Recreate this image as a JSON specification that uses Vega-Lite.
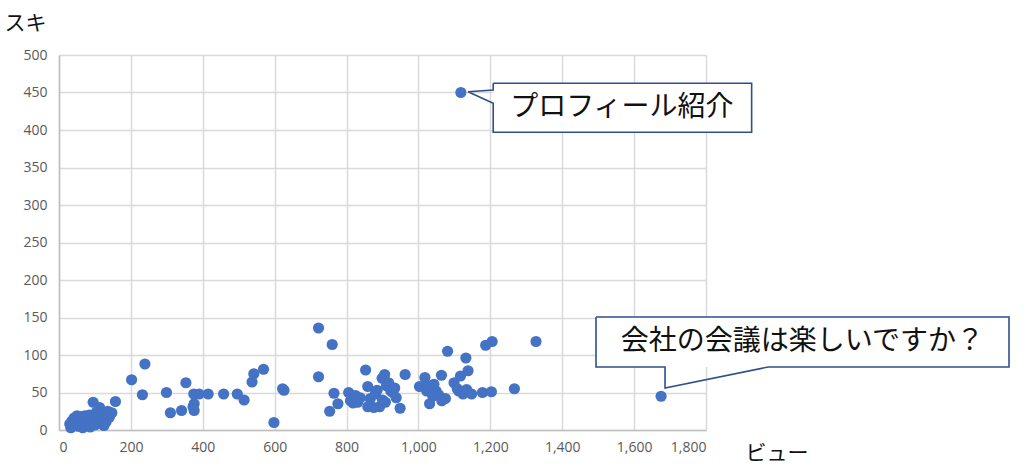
{
  "$schema": "https://vega.github.io/schema/vega-lite/v6.json",
  "width": 647,
  "height": 375,
  "autosize": "none",
  "padding": {"left": 59, "top": 55, "right": 321, "bottom": 45},
  "background": "white",
  "datasets": {
    "posts": [
      {"views": 30, "likes": 8}, {"views": 33, "likes": 3}, {"views": 36, "likes": 12}, {"views": 40, "likes": 6},
      {"views": 42, "likes": 16}, {"views": 46, "likes": 10}, {"views": 50, "likes": 19}, {"views": 53, "likes": 5},
      {"views": 56, "likes": 13}, {"views": 60, "likes": 18}, {"views": 63, "likes": 8}, {"views": 66, "likes": 3},
      {"views": 69, "likes": 12}, {"views": 72, "likes": 19}, {"views": 75, "likes": 6}, {"views": 78, "likes": 15},
      {"views": 81, "likes": 10}, {"views": 84, "likes": 20}, {"views": 87, "likes": 4}, {"views": 90, "likes": 12},
      {"views": 95, "likes": 37}, {"views": 98, "likes": 16}, {"views": 101, "likes": 7}, {"views": 104, "likes": 24},
      {"views": 107, "likes": 13}, {"views": 110, "likes": 19}, {"views": 113, "likes": 30}, {"views": 116, "likes": 9},
      {"views": 119, "likes": 23}, {"views": 122, "likes": 15}, {"views": 125, "likes": 6}, {"views": 128, "likes": 20},
      {"views": 131, "likes": 11}, {"views": 136, "likes": 25}, {"views": 140, "likes": 17}, {"views": 147, "likes": 23},
      {"views": 157, "likes": 38},
      {"views": 202, "likes": 67}, {"views": 232, "likes": 47}, {"views": 239, "likes": 88}, {"views": 299, "likes": 50},
      {"views": 310, "likes": 23}, {"views": 341, "likes": 26}, {"views": 353, "likes": 63}, {"views": 373, "likes": 31},
      {"views": 375, "likes": 48}, {"views": 376, "likes": 35}, {"views": 376, "likes": 26}, {"views": 390, "likes": 48},
      {"views": 415, "likes": 48}, {"views": 458, "likes": 48}, {"views": 496, "likes": 48}, {"views": 515, "likes": 40},
      {"views": 537, "likes": 64}, {"views": 542, "likes": 75}, {"views": 569, "likes": 81}, {"views": 598, "likes": 10},
      {"views": 622, "likes": 55}, {"views": 626, "likes": 53},
      {"views": 722, "likes": 136}, {"views": 722, "likes": 71}, {"views": 760, "likes": 114}, {"views": 753, "likes": 25},
      {"views": 765, "likes": 49}, {"views": 776, "likes": 35}, {"views": 806, "likes": 50}, {"views": 811, "likes": 39},
      {"views": 818, "likes": 36}, {"views": 825, "likes": 46}, {"views": 831, "likes": 37}, {"views": 838, "likes": 43},
      {"views": 853, "likes": 80}, {"views": 859, "likes": 58}, {"views": 859, "likes": 31}, {"views": 866, "likes": 42},
      {"views": 876, "likes": 30}, {"views": 880, "likes": 48}, {"views": 885, "likes": 53}, {"views": 892, "likes": 31},
      {"views": 899, "likes": 69}, {"views": 906, "likes": 74}, {"views": 911, "likes": 59}, {"views": 908, "likes": 37},
      {"views": 917, "likes": 63}, {"views": 923, "likes": 52}, {"views": 929, "likes": 50}, {"views": 934, "likes": 56},
      {"views": 938, "likes": 43}, {"views": 949, "likes": 29}, {"views": 963, "likes": 74}, {"views": 900, "likes": 40},
      {"views": 1003, "likes": 58}, {"views": 1018, "likes": 70}, {"views": 1023, "likes": 52}, {"views": 1025, "likes": 59},
      {"views": 1031, "likes": 35}, {"views": 1040, "likes": 45}, {"views": 1043, "likes": 61}, {"views": 1049, "likes": 52},
      {"views": 1056, "likes": 47}, {"views": 1064, "likes": 73}, {"views": 1065, "likes": 39}, {"views": 1075, "likes": 42},
      {"views": 1081, "likes": 105}, {"views": 1099, "likes": 63}, {"views": 1108, "likes": 55}, {"views": 1112, "likes": 52},
      {"views": 1117, "likes": 72}, {"views": 1124, "likes": 48}, {"views": 1132, "likes": 96}, {"views": 1134, "likes": 54},
      {"views": 1138, "likes": 79}, {"views": 1148, "likes": 48}, {"views": 1178, "likes": 50}, {"views": 1187, "likes": 113},
      {"views": 1205, "likes": 118}, {"views": 1203, "likes": 51}, {"views": 1267, "likes": 55}, {"views": 1327, "likes": 118},
      {"views": 1118, "likes": 450}, {"views": 1675, "likes": 45}
    ],
    "boxes": [
      {"name": "profile", "views": 1208, "views2": 1927, "likes": 397, "likes2": 462.3},
      {"name": "meeting", "views": 1494, "views2": 2643, "likes": 84, "likes2": 150.7}
    ],
    "outline": [
      {"name": "profile", "ord": 1, "views": 1208, "likes": 462.3},
      {"name": "profile", "ord": 2, "views": 1927, "likes": 462.3},
      {"name": "profile", "ord": 3, "views": 1927, "likes": 397},
      {"name": "profile", "ord": 4, "views": 1208, "likes": 397},
      {"name": "profile", "ord": 5, "views": 1208, "likes": 435.6},
      {"name": "profile", "ord": 6, "views": 1138, "likes": 451},
      {"name": "profile", "ord": 7, "views": 1208, "likes": 453.3},
      {"name": "profile", "ord": 8, "views": 1208, "likes": 462.3},
      {"name": "meeting", "ord": 1, "views": 1494, "likes": 150.7},
      {"name": "meeting", "ord": 2, "views": 2643, "likes": 150.7},
      {"name": "meeting", "ord": 3, "views": 2643, "likes": 84},
      {"name": "meeting", "ord": 4, "views": 1973, "likes": 84},
      {"name": "meeting", "ord": 5, "views": 1686, "likes": 56},
      {"name": "meeting", "ord": 6, "views": 1686, "likes": 84},
      {"name": "meeting", "ord": 7, "views": 1494, "likes": 84},
      {"name": "meeting", "ord": 8, "views": 1494, "likes": 150.7}
    ],
    "labels": [
      {"views": 1566, "likes": 429, "text": "プロフィール紹介"},
      {"views": 2068, "likes": 117, "text": "会社の会議は楽しいですか？"}
    ]
  },
  "encoding": {
    "x": {
      "field": "views", "type": "quantitative",
      "scale": {"domain": [0, 1800], "nice": false},
      "axis": {
        "values": [0, 200, 400, 600, 800, 1000, 1200, 1400, 1600, 1800],
        "format": ",d",
        "title": "ビュー",
        "titleAngle": 0, "titleAlign": "left", "titleBaseline": "alphabetic",
        "titleX": 686, "titleY": 29
      }
    },
    "y": {
      "field": "likes", "type": "quantitative",
      "scale": {"domain": [0, 500], "nice": false},
      "axis": {
        "values": [0, 50, 100, 150, 200, 250, 300, 350, 400, 450, 500],
        "title": "スキ",
        "titleAngle": 0, "titleAlign": "left", "titleBaseline": "alphabetic",
        "titleX": -55, "titleY": -26
      }
    }
  },
  "layer": [
    {
      "data": {"name": "posts"},
      "mark": {"type": "circle", "size": 125, "opacity": 1, "color": "#4472C4"}
    },
    {
      "data": {"name": "boxes"},
      "mark": {"type": "rect", "fill": "white", "clip": false},
      "encoding": {
        "x2": {"field": "views2"},
        "y2": {"field": "likes2"}
      }
    },
    {
      "data": {"name": "outline"},
      "mark": {"type": "line", "stroke": "#2F4F8A", "strokeWidth": 1.6, "clip": false},
      "encoding": {
        "detail": {"field": "name"},
        "order": {"field": "ord"}
      }
    },
    {
      "data": {"name": "labels"},
      "mark": {"type": "text", "font": "Noto Sans CJK JP", "fontSize": 28, "color": "#111111", "align": "center", "baseline": "middle", "clip": false},
      "encoding": {
        "text": {"field": "text"}
      }
    }
  ],
  "config": {
    "view": {"stroke": null},
    "axis": {
      "grid": true,
      "gridColor": "#D9D9D9",
      "gridWidth": 1.5,
      "domainColor": "#BFBFBF",
      "domainWidth": 1.5,
      "ticks": false,
      "labelFont": "Open Sans",
      "labelFontSize": 14,
      "labelColor": "#595959",
      "labelOverlap": false,
      "titleFont": "Noto Sans CJK JP",
      "titleFontSize": 21,
      "titleFontWeight": "normal",
      "titleColor": "#111111"
    },
    "axisX": {"labelPadding": 10},
    "axisY": {"labelPadding": 12}
  }
}
